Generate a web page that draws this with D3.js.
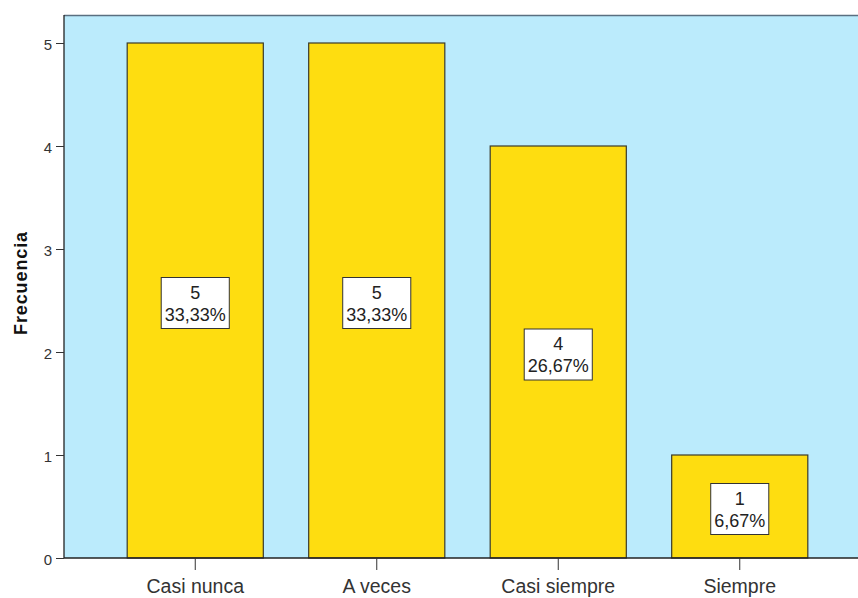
<!DOCTYPE html>
<html><head><meta charset="utf-8">
<script src="https://cdn.jsdelivr.net/npm/d3@7"></script>
<style>body{margin:0;background:#fff}text{font-family:"Liberation Sans",Arial,sans-serif}</style>
</head><body>
<svg id="c" width="858" height="598"></svg>
<script>
const categories = ["Casi nunca","A veces","Casi siempre","Siempre"];
const counts = [5,5,4,1];
const percents = ["33,33%","33,33%","26,67%","6,67%"];
const yTicks = [0,1,2,3,4,5];

const svg = d3.select("#c");
const mLeft = 64, mTop = 15, mRight = 858, mBottom = 558;
const y = d3.scaleLinear().domain([0,5]).range([mBottom,43]);
const x = d3.scaleBand().domain(categories).range([104.5,830.5]).paddingInner(0.25).paddingOuter(0.125);

svg.append("rect").attr("x",mLeft).attr("y",mTop).attr("width",mRight-mLeft).attr("height",mBottom-mTop).attr("fill","#BBEBFC");
svg.append("line").attr("x1",mLeft).attr("x2",mRight).attr("y1",mTop+0.5).attr("y2",mTop+0.5).attr("stroke","#5a6f80").attr("stroke-width",1.5);

const bars = svg.append("g");
categories.forEach((c,i)=>{
  const x0 = x(c), w = x.bandwidth(), y0 = y(counts[i]);
  bars.append("rect").attr("x",x0).attr("y",y0).attr("width",w).attr("height",mBottom-y0)
    .attr("fill","#FEDD10").attr("stroke","#3a3a2a").attr("stroke-width",1.2);
  const cx = x0 + w/2, cy = y(counts[i]/2);
  const g = svg.append("g");
  const t1 = g.append("text").attr("x",cx).attr("y",cy-2).attr("text-anchor","middle").attr("font-size",18).attr("fill","#222").text(counts[i]);
  const t2 = g.append("text").attr("x",cx).attr("y",cy+20).attr("text-anchor","middle").attr("font-size",18).attr("fill","#222").text(percents[i]);
  const bw = Math.max(t2.node().getComputedTextLength(), t1.node().getComputedTextLength()) + 7;
  g.insert("rect","text").attr("x",cx-bw/2).attr("y",cy-23).attr("width",bw).attr("height",51)
    .attr("fill","#fff").attr("stroke","#333").attr("stroke-width",1);
});

// axes
const ya = svg.append("g").attr("transform",`translate(${mLeft},0)`)
  .call(d3.axisLeft(y).tickValues(yTicks).tickSize(8).tickPadding(4).tickFormat(d3.format("d")));
ya.select(".domain").attr("stroke","#222").attr("stroke-width",1.3).attr("d",`M0,${mTop}V${mBottom}`);
ya.selectAll(".tick line").attr("stroke","#333");
ya.selectAll(".tick text").attr("font-size",15).attr("fill","#333").attr("dy","0.4em").attr("font-family","Liberation Sans, Arial, sans-serif");

const xa = svg.append("g").attr("transform",`translate(0,${mBottom})`)
  .call(d3.axisBottom(x).tickSize(12).tickPadding(5));
xa.select(".domain").attr("stroke","#222").attr("stroke-width",1.3).attr("d",`M${mLeft},0H${mRight}`);
xa.selectAll(".tick line").attr("stroke","#333");
xa.selectAll(".tick text").attr("font-size",19.5).attr("fill","#333").attr("dy","0.9em").attr("font-family","Liberation Sans, Arial, sans-serif");

svg.append("text").attr("transform",`translate(27,283) rotate(-90)`).attr("text-anchor","middle")
  .attr("font-size",18).attr("font-weight","bold").attr("letter-spacing","0.9px").attr("fill","#111").text("Frecuencia");
</script>
</body></html>
